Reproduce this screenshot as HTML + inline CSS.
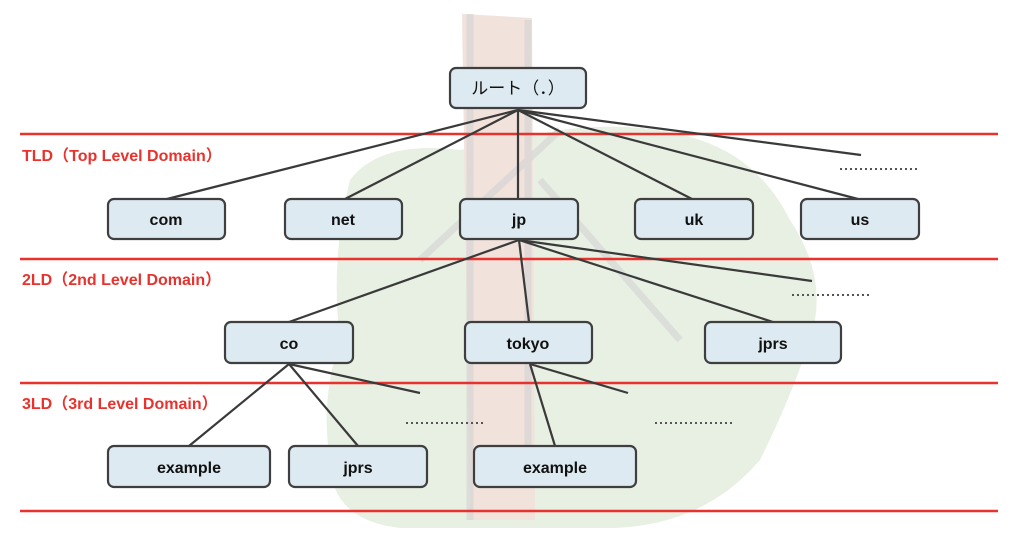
<!DOCTYPE html>
<html><head><meta charset="utf-8"><style>
body{margin:0;background:#fff;width:1024px;height:538px;overflow:hidden}
svg{display:block}
text{font-family:"Liberation Sans","Noto Sans CJK JP",sans-serif}
</style></head><body>
<svg width="1024" height="538" viewBox="0 0 1024 538">
<path d="M350 180 Q380 140 460 150 L560 130 Q640 120 700 140 Q760 160 790 220 Q830 280 810 340 Q790 400 760 460 Q700 530 600 528 L400 528 Q330 520 330 460 Q320 400 340 340 Q330 260 350 180Z" fill="#e8f0e3"/>
<path d="M462 14 L532 18 L535 520 L470 520 Z" fill="#f1e2dc"/>
<path d="M470 14 L470 520 M528 20 L528 450 M420 260 L560 130 M540 180 L680 340" stroke="#d2d2d2" stroke-width="7" fill="none" opacity="0.6"/>
<g stroke="#e8322d" stroke-width="2.5">
<line x1="20" y1="134" x2="998" y2="134"/>
<line x1="20" y1="259" x2="998" y2="259"/>
<line x1="20" y1="383" x2="998" y2="383"/>
<line x1="20" y1="511" x2="998" y2="511"/>
</g>
<g fill="#e8322d" font-size="16" font-weight="bold">
<text x="22" y="161">TLD（Top Level Domain）</text>
<text x="22" y="285">2LD（2nd Level Domain）</text>
<text x="22" y="409">3LD（3rd Level Domain）</text>
</g>
<g stroke="#3a3a3a" stroke-width="2.2" fill="none">
<line x1="518" y1="110" x2="167" y2="199"/>
<line x1="518" y1="110" x2="345" y2="199"/>
<line x1="518" y1="110" x2="518" y2="199"/>
<line x1="518" y1="110" x2="692" y2="199"/>
<line x1="518" y1="110" x2="858" y2="199"/>
<line x1="518" y1="110" x2="861" y2="155"/>
<line x1="519" y1="240" x2="289" y2="322"/>
<line x1="519" y1="240" x2="529" y2="322"/>
<line x1="519" y1="240" x2="773" y2="322"/>
<line x1="519" y1="240" x2="812" y2="281"/>
<line x1="289" y1="364" x2="189" y2="446"/>
<line x1="289" y1="364" x2="358" y2="446"/>
<line x1="289" y1="364" x2="420" y2="393"/>
<line x1="530" y1="364" x2="555" y2="446"/>
<line x1="530" y1="364" x2="628" y2="393"/>
</g>
<g stroke="#555" stroke-width="2" stroke-dasharray="2 3">
<line x1="840" y1="169" x2="918" y2="169"/>
<line x1="792" y1="295" x2="870" y2="295"/>
<line x1="406" y1="423" x2="484" y2="423"/>
<line x1="655" y1="423" x2="733" y2="423"/>
</g>
<g fill="#deeaf1" stroke="#3f3f3f" stroke-width="2.2">
<rect x="450" y="68" width="136" height="40" rx="6"/>
<rect x="108" y="199" width="117" height="40" rx="6"/>
<rect x="285" y="199" width="117" height="40" rx="6"/>
<rect x="460" y="199" width="118" height="40" rx="6"/>
<rect x="635" y="199" width="118" height="40" rx="6"/>
<rect x="801" y="199" width="118" height="40" rx="6"/>
<rect x="225" y="322" width="128" height="41" rx="6"/>
<rect x="465" y="322" width="127" height="41" rx="6"/>
<rect x="705" y="322" width="136" height="41" rx="6"/>
<rect x="108" y="446" width="162" height="41" rx="6"/>
<rect x="289" y="446" width="138" height="41" rx="6"/>
<rect x="474" y="446" width="162" height="41" rx="6"/>
</g>
<g fill="#111" font-size="16" font-weight="bold" text-anchor="middle">
<text x="518" y="94" font-weight="normal" font-size="17">ルート（．）</text>
<text x="166" y="225">com</text>
<text x="343" y="225">net</text>
<text x="519" y="225">jp</text>
<text x="694" y="225">uk</text>
<text x="860" y="225">us</text>
<text x="289" y="349">co</text>
<text x="528" y="349">tokyo</text>
<text x="773" y="349">jprs</text>
<text x="189" y="473">example</text>
<text x="358" y="473">jprs</text>
<text x="555" y="473">example</text>
</g>
</svg>
</body></html>
